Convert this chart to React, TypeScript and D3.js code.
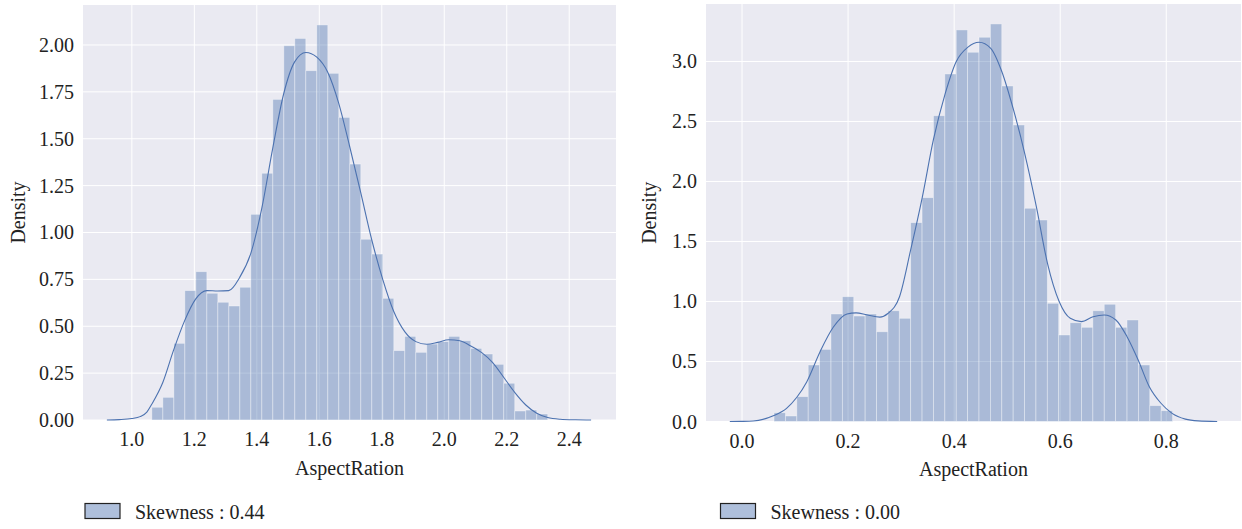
import React from 'react';
import * as d3 from 'd3';

// left panel: histogram density per bin (bins start at leftBinStart, width leftBinWidth)
const leftBinStart = 1.064;
const leftBinWidth = 0.0352;
const leftDensity = [
  0.068, 0.121, 0.409, 0.690, 0.791, 0.676, 0.628, 0.608, 0.708, 1.097,
  1.316, 1.710, 1.996, 2.035, 1.863, 2.107, 1.849, 1.614, 1.365, 0.964,
  0.885, 0.649, 0.370, 0.446, 0.361, 0.405, 0.418, 0.446, 0.423, 0.382,
  0.352, 0.297, 0.196, 0.048, 0.053, 0.032,
];
const leftKde: [number, number][] = [
  [0.92, 0], [0.96, 0.002], [1.0, 0.008], [1.026, 0.018], [1.048, 0.042],
  [1.064, 0.085], [1.099, 0.2], [1.133, 0.37], [1.169, 0.53], [1.204, 0.645],
  [1.24, 0.69], [1.275, 0.688], [1.31, 0.69], [1.345, 0.76], [1.381, 0.89],
  [1.416, 1.13], [1.451, 1.45], [1.486, 1.74], [1.521, 1.91], [1.557, 1.96],
  [1.592, 1.935], [1.627, 1.855], [1.662, 1.69], [1.697, 1.46], [1.733, 1.21],
  [1.768, 0.96], [1.803, 0.75], [1.838, 0.58], [1.874, 0.47], [1.909, 0.418],
  [1.944, 0.404], [1.979, 0.414], [2.014, 0.428], [2.05, 0.423], [2.085, 0.395],
  [2.12, 0.359], [2.155, 0.306], [2.19, 0.228], [2.226, 0.146], [2.261, 0.08],
  [2.296, 0.036], [2.331, 0.013], [2.371, 0.004], [2.42, 0.001], [2.47, 0],
];
const leftXTicks = [1.0, 1.2, 1.4, 1.6, 1.8, 2.0, 2.2, 2.4];
const leftYTicks = [0, 0.25, 0.5, 0.75, 1.0, 1.25, 1.5, 1.75, 2.0];

// right panel
const rightBinStart = 0.0604;
const rightBinWidth = 0.02147;
const rightDensity = [
  0.073, 0.046, 0.207, 0.471, 0.601, 0.896, 1.04, 0.879, 0.896, 0.748,
  0.923, 0.86, 1.657, 1.865, 2.548, 2.896, 3.263, 3.077, 3.202, 3.313,
  2.796, 2.471, 1.777, 1.679, 0.985, 0.721, 0.823, 0.785, 0.923, 0.977,
  0.785, 0.846, 0.471, 0.132, 0.09,
];
const rightKde: [number, number][] = [
  [-0.023, 0], [0.0, 0.001], [0.021, 0.004], [0.059, 0.048], [0.084, 0.11],
  [0.103, 0.2], [0.122, 0.33], [0.147, 0.58], [0.172, 0.785], [0.198, 0.896],
  [0.215, 0.905], [0.235, 0.89], [0.26, 0.87], [0.275, 0.9], [0.297, 1.04],
  [0.318, 1.43], [0.34, 1.87], [0.361, 2.35], [0.383, 2.73], [0.404, 3.0],
  [0.426, 3.12], [0.447, 3.16], [0.469, 3.11], [0.49, 2.915], [0.512, 2.596],
  [0.533, 2.235], [0.555, 1.79], [0.576, 1.318], [0.598, 1.0], [0.619, 0.86],
  [0.64, 0.832], [0.662, 0.873], [0.683, 0.888], [0.705, 0.846], [0.726, 0.707],
  [0.747, 0.513], [0.768, 0.29], [0.79, 0.152], [0.811, 0.068], [0.836, 0.02],
  [0.86, 0.005], [0.896, 0],
];
const rightXTicks = [0.0, 0.2, 0.4, 0.6, 0.8];
const rightYTicks = [0, 0.5, 1.0, 1.5, 2.0, 2.5, 3.0];

const xLabel = 'AspectRation';
const yLabel = 'Density';
const leftLegend = 'Skewness : 0.44';
const rightLegend = 'Skewness : 0.00';

const FONT = '"Liberation Serif", "Times New Roman", "DejaVu Serif", serif';
const BLUE = '#4C72B0';
const FS = 20;

type PanelProps = {
  left: number; right: number; top: number; bottom: number;
  xDomain: [number, number]; yDomain: [number, number];
  binStart: number; binWidth: number; density: number[];
  kde: [number, number][];
  xTicks: number[]; yTicks: number[]; yFmt: string;
  legend: string; legendX: number; yLabelX: number;
};

function Panel(p: PanelProps) {
  const x = d3.scaleLinear().domain(p.xDomain).range([p.left, p.right]);
  const y = d3.scaleLinear().domain(p.yDomain).range([p.bottom, p.top]);
  const fmtX = d3.format('.1f');
  const fmtY = d3.format(p.yFmt);
  const line = d3.line<[number, number]>()
    .x(d => x(d[0]))
    .y(d => y(d[1]))
    .curve(d3.curveMonotoneX);
  const cx = (p.left + p.right) / 2;
  const cy = (p.top + p.bottom) / 2;

  return (
    <g>
      <rect x={p.left} y={p.top} width={p.right - p.left} height={p.bottom - p.top} fill="#EAEAF2" />
      {p.xTicks.map(t => (
        <line key={'gx' + t} x1={x(t)} x2={x(t)} y1={p.top} y2={p.bottom} stroke="#fff" strokeWidth={1} />
      ))}
      {p.yTicks.map(t => (
        <line key={'gy' + t} x1={p.left} x2={p.right} y1={y(t)} y2={y(t)} stroke="#fff" strokeWidth={1} />
      ))}
      {p.density.map((d, i) => {
        const x0 = p.binStart + i * p.binWidth;
        return (
          <rect key={'b' + i} x={x(x0)} y={y(d)} width={x(x0 + p.binWidth) - x(x0)} height={y(0) - y(d)}
            fill={BLUE} fillOpacity={0.4} stroke="#fff" strokeOpacity={0.45} strokeWidth={0.8} />
        );
      })}
      <path d={line(p.kde) || ''} fill="none" stroke={BLUE} strokeWidth={1.1} />
      {p.xTicks.map(t => (
        <text key={'tx' + t} x={x(t)} y={p.bottom + 26} textAnchor="middle" fontSize={FS} fontFamily={FONT} fill="#222">{fmtX(t)}</text>
      ))}
      {p.yTicks.map(t => (
        <text key={'ty' + t} x={p.left - 9} y={y(t)} dy="0.35em" textAnchor="end" fontSize={FS} fontFamily={FONT} fill="#222">{fmtY(t)}</text>
      ))}
      <text x={cx} y={p.bottom + 54.5} textAnchor="middle" fontSize={FS} fontFamily={FONT} fill="#222">{xLabel}</text>
      <text transform={`translate(${p.yLabelX},${cy}) rotate(-90)`} textAnchor="middle" fontSize={FS} fontFamily={FONT} fill="#222">{yLabel}</text>
      <rect x={p.legendX} y={503.5} width={35} height={15} fill={BLUE} fillOpacity={0.45} stroke="#222" strokeWidth={1.2} />
      <text x={p.legendX + 50} y={518.5} fontSize={FS} fontFamily={FONT} fill="#222">{p.legend}</text>
    </g>
  );
}

export default function App() {
  return (
    <svg width={1242} height={529} style={{ position: 'absolute', left: 0, top: 0, background: '#fff' }}>
      <Panel left={83} right={616} top={5} bottom={420}
        xDomain={[0.8436, 2.5497]} yDomain={[0, 2.2133]}
        binStart={leftBinStart} binWidth={leftBinWidth} density={leftDensity} kde={leftKde}
        xTicks={leftXTicks} yTicks={leftYTicks} yFmt=".2f"
        legend={leftLegend} legendX={85} yLabelX={25} />
      <Panel left={706} right={1241} top={4} bottom={421.5}
        xDomain={[-0.0679, 0.9409]} yDomain={[0, 3.479]}
        binStart={rightBinStart} binWidth={rightBinWidth} density={rightDensity} kde={rightKde}
        xTicks={rightXTicks} yTicks={rightYTicks} yFmt=".1f"
        legend={rightLegend} legendX={720.5} yLabelX={656} />
    </svg>
  );
}
